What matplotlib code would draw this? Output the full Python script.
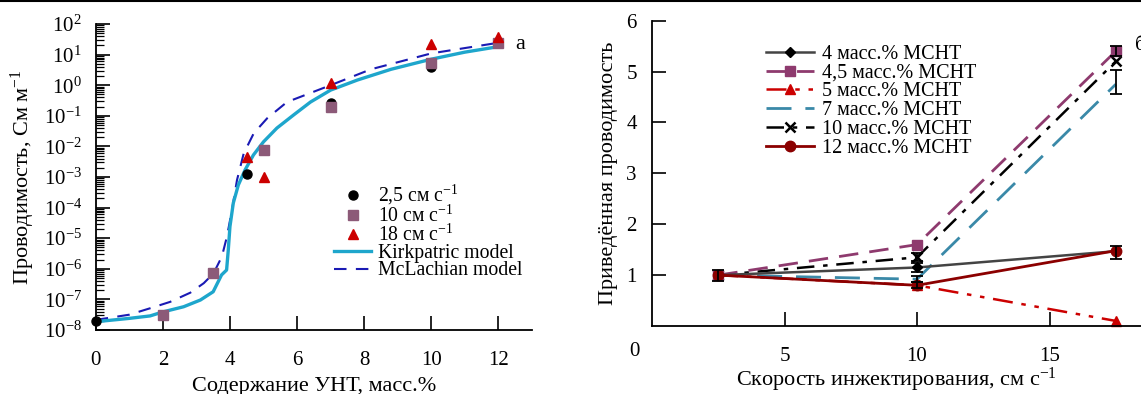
import numpy as np
import matplotlib
matplotlib.use("Agg")
import matplotlib.pyplot as plt
from matplotlib.lines import Line2D
from matplotlib.ticker import FixedLocator, LogLocator, NullFormatter

plt.rcParams["font.family"] = ["Liberation Serif", "DejaVu Serif"]
plt.rcParams["mathtext.fontset"] = "custom"
plt.rcParams["mathtext.rm"] = "Liberation Serif"
plt.rcParams["mathtext.it"] = "Liberation Serif:italic"
plt.rcParams["mathtext.bf"] = "Liberation Serif:bold"

# ---------------- panel (а): conductivity vs CNT content ----------------
cnt_circle = [0, 4.5, 7, 10]
sig_circle = [1.9e-8, 1.26e-3, 0.26, 3.8]
cnt_square = [2, 3.5, 5, 7, 10, 12]
sig_square = [3.1e-8, 7.1e-7, 7.6e-3, 0.19, 5.5, 24]
cnt_tri = [4.5, 5, 7, 10, 12]
sig_tri = [4.4e-3, 1.0e-3, 1.15, 22, 38]

kirk_x = [0, 1, 1.62, 2.0, 2.62, 3.12, 3.5, 3.65, 3.75, 3.9, 3.95, 4.0, 4.1,
          4.25, 4.45, 4.7, 5.0, 5.4, 5.9, 6.4, 7.0, 7.8, 8.8, 10.0, 11.0, 12.0]
kirk_log = [-7.73, -7.62, -7.54, -7.41, -7.24, -7.02, -6.75, -6.42, -6.2, -6.04,
            -5.39, -4.62, -3.85, -3.26, -2.77, -2.28, -1.85, -1.4, -0.97, -0.55,
            -0.16, 0.17, 0.52, 0.85, 1.08, 1.26]
mcl_x = [0, 1.0, 1.62, 2.22, 2.82, 3.22, 3.51, 3.76, 3.91, 4.06, 4.21, 4.41,
         4.71, 5.11, 5.7, 7.0, 8.2, 10.0, 11.9, 12.0]
mcl_log = [-7.67, -7.5, -7.29, -7.08, -6.78, -6.47, -6.15, -5.6, -4.95, -4.08,
           -3.1, -2.23, -1.57, -1.08, -0.55, 0.0, 0.52, 1.04, 1.37, 1.38]

# ---------------- panel (б): normalised conductivity vs injection rate ----------------
speed = [2.5, 10, 17.5]
norm_4 = [1.0, 1.15, 1.47]
norm_45 = [1.0, 1.6, 5.4]
norm_5 = [1.0, 0.8, 0.1]
norm_7 = [1.0, 0.92, 4.75]
norm_10 = [1.0, 1.35, 5.2]
norm_12 = [1.0, 0.8, 1.48]

err_x = [2.5, 10, 10, 10, 10, 17.5, 17.5, 17.5]
err_y = [1.0, 1.35, 1.15, 0.92, 0.8, 5.4, 4.8, 1.45]
err_d = [0.11, 0.08, 0.08, 0.06, 0.06, 0.1, 0.24, 0.13]

W, H = 1141, 394
fig = plt.figure(figsize=(W / 100, H / 100), dpi=100)

TICK_FS = 15
LABEL_FS = 16


def px_axes(l, r, t, b):
    return fig.add_axes([l / W, (H - b) / H, (r - l) / W, (b - t) / H])


# ---- left panel ----
ax = px_axes(95.7, 532, 24, 330)
ax.set_yscale("log")
ax.set_xlim(0, 13)
ax.set_ylim(1e-8, 1e2)
for s in ("top", "right"):
    ax.spines[s].set_visible(False)
for s in ("left", "bottom"):
    ax.spines[s].set_linewidth(1.3)

ax.plot(mcl_x, 10 ** np.array(mcl_log), color="#1a1ab4", lw=1.5,
        dashes=(6, 4.5), label="McLachian model", zorder=2)
ax.plot(kirk_x, 10 ** np.array(kirk_log), color="#1ea6cc", lw=2.4,
        label="Kirkpatric model", zorder=3)
ax.plot(cnt_circle, sig_circle, "o", color="black", ms=6.5, clip_on=False,
        zorder=4, label="2,5 см с$^{-1}$")
ax.plot(cnt_square, sig_square, "s", color="#8c5a78", ms=6.5, clip_on=False,
        zorder=5, label="10 см с$^{-1}$")
ax.plot(cnt_tri, sig_tri, "^", color="#cc0000", ms=7, clip_on=False,
        zorder=6, label="18 см с$^{-1}$")

ax.set_xticks([0, 2, 4, 6, 8, 10, 12])
ax.yaxis.set_major_locator(FixedLocator([10.0 ** k for k in range(-8, 3)]))
ax.yaxis.set_minor_locator(LogLocator(base=10, subs=np.arange(2, 10), numticks=20))
ax.yaxis.set_minor_formatter(NullFormatter())
ax.set_yticklabels(["10$^{%s}$" % (str(k).replace("-", "−")) for k in range(-8, 3)])
ax.tick_params(axis="both", which="major", direction="in", length=10, width=1.2,
               labelsize=TICK_FS)
ax.tick_params(axis="y", which="minor", direction="in", length=6, width=0.9)
ax.tick_params(axis="x", pad=15)
ax.tick_params(axis="y", pad=10)

ax.set_xlabel("Содержание УНТ, масс.%", fontsize=LABEL_FS)
ax.xaxis.set_label_coords(0.5, -0.185)
ax.xaxis.label.set_va("center")
ax.set_ylabel("Проводимость, См м$^{-1}$", fontsize=LABEL_FS)
ax.yaxis.set_label_coords(-0.167, 0.5)
ax.yaxis.label.set_va("center")
ax.text(12.64, 21, "а", fontsize=LABEL_FS, ha="center", va="center")

h, l = ax.get_legend_handles_labels()
order = [2, 3, 4, 1, 0]
ax.legend([h[i] for i in order], [l[i] for i in order], frameon=False,
          fontsize=14.2, loc="upper left", bbox_to_anchor=(334 / W, 1 - 183 / H),
          bbox_transform=fig.transFigure, handlelength=1.9, handletextpad=0.35,
          labelspacing=-0.09, borderpad=0, borderaxespad=0, numpoints=1)

# ---- right panel ----
bx = px_axes(652, 1141, 20.7, 326)
bx.set_xlim(0, (1141 - 652) / 26.5)
bx.set_ylim(0, 6)
for s in ("top", "right"):
    bx.spines[s].set_visible(False)
for s in ("left", "bottom"):
    bx.spines[s].set_linewidth(1.3)

bx.plot(speed, norm_7, color="#3a89a8", lw=2.0, dashes=(9, 5),
        label="7 масс.% МСНТ", zorder=2)
bx.plot(speed, norm_5, color="#cc0000", lw=1.8, dashes=(8, 3.5, 1.8, 3.5, 1.8, 3.5),
        marker="^", ms=7, label="5 масс.% МСНТ", zorder=2, clip_on=False)
bx.plot(speed, norm_10, color="black", lw=1.8, dashes=(7, 3.5, 1.8, 3.5),
        marker="x", ms=7, mew=1.8, label="10 масс.% МСНТ", zorder=3)
bx.plot(speed, norm_45, color="#8e3a6e", lw=2.0, dashes=(7, 4),
        marker="s", ms=6.5, label="4,5 масс.% МСНТ", zorder=3)
bx.plot(speed, norm_4, color="#444444", lw=1.8, marker="D", ms=5.5,
        mfc="black", mec="black", label="4 масс.% МСНТ", zorder=3)
bx.plot(speed, norm_12, color="#8b0000", lw=2.0, marker="o", ms=7.5,
        label="12 масс.% МСНТ", zorder=4)
bx.errorbar(err_x, err_y, yerr=err_d, fmt="none", ecolor="black", elinewidth=1.3,
            capsize=4.5, capthick=1.3, zorder=5)

bx.set_xticks([5, 10, 15])
bx.set_yticks([1, 2, 3, 4, 5, 6])
bx.tick_params(axis="both", which="major", direction="in", length=10, width=1.2,
               labelsize=TICK_FS)
bx.tick_params(axis="x", pad=15)
bx.tick_params(axis="y", pad=11)
fig.text(634 / W, 1 - 352 / H, "0", fontsize=TICK_FS, ha="center", va="center")

bx.set_xlabel("Скорость инжектирования, см с$^{-1}$", fontsize=LABEL_FS)
bx.xaxis.set_label_coords(0.5, -0.175)
bx.xaxis.label.set_va("center")
bx.set_ylabel("Приведённая проводимость", fontsize=LABEL_FS)
bx.yaxis.set_label_coords(-0.088, 0.5)
bx.yaxis.label.set_va("center")
bx.text(18.22, 5.52, "б", fontsize=LABEL_FS, ha="left", va="center", clip_on=False)

h, l = bx.get_legend_handles_labels()
want = ["4 масс.% МСНТ", "4,5 масс.% МСНТ", "5 масс.% МСНТ", "7 масс.% МСНТ",
        "10 масс.% МСНТ", "12 масс.% МСНТ"]
hl = dict(zip(l, h))
bx.legend([hl[k] for k in want], want, frameon=False, fontsize=14.5,
          loc="upper left", bbox_to_anchor=(766 / W, 1 - 45 / H),
          bbox_transform=fig.transFigure, handlelength=2.4, handletextpad=0.36,
          labelspacing=-0.02, borderpad=0, borderaxespad=0, numpoints=1)

fig.add_artist(Line2D([0, 1], [1 - 0.8 / H, 1 - 0.8 / H], transform=fig.transFigure,
                      color="black", lw=1.5))

fig.savefig("out.png", dpi=100)
